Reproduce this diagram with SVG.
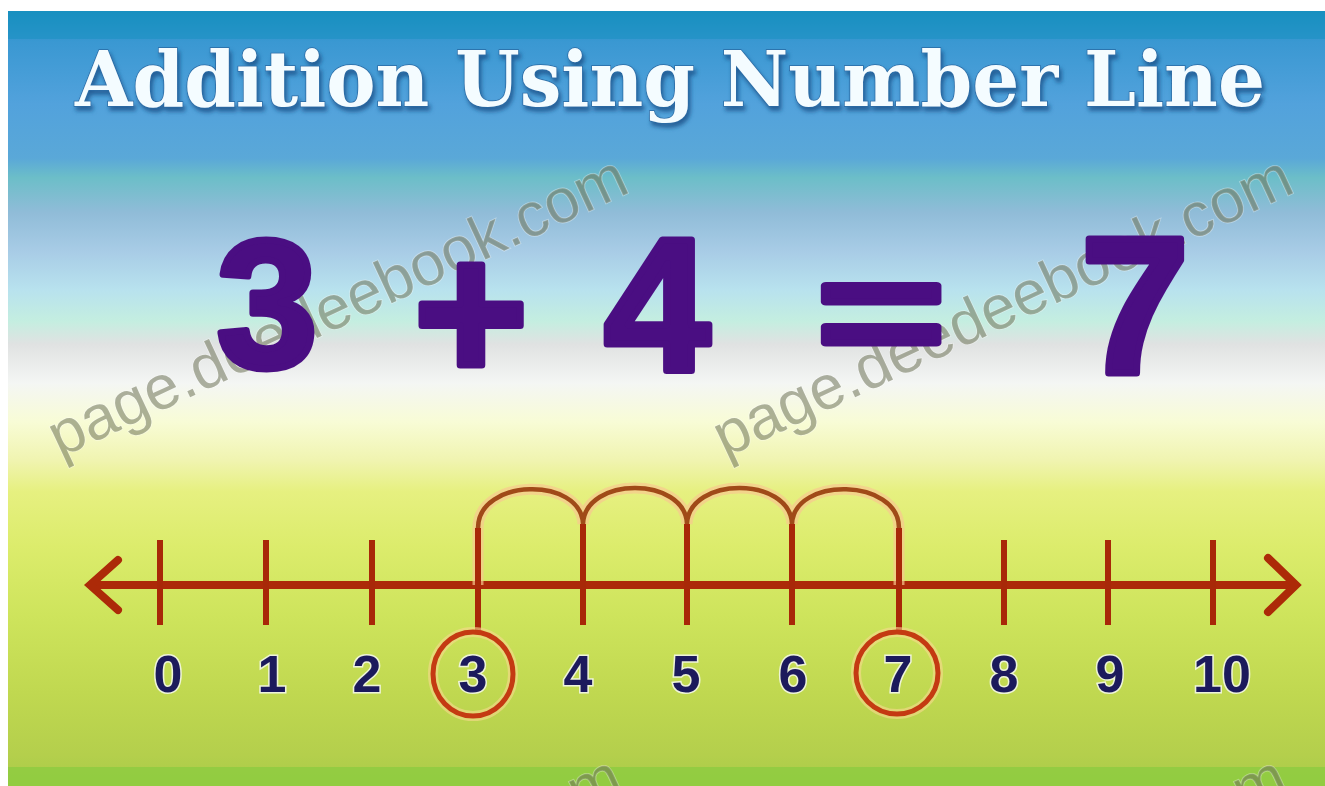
<svg xmlns="http://www.w3.org/2000/svg" width="1325" height="786" viewBox="0 0 1325 786">
<defs>
<linearGradient id="bg" x1="0" y1="11" x2="0" y2="786" gradientUnits="userSpaceOnUse">
<stop offset="0" stop-color="#1a90c0"/>
<stop offset="0.04" stop-color="#3a98d2"/>
<stop offset="0.12" stop-color="#52a2dc"/>
<stop offset="0.19" stop-color="#5aa8d8"/>
<stop offset="0.215" stop-color="#6cbec8"/>
<stop offset="0.26" stop-color="#90bcd8"/>
<stop offset="0.31" stop-color="#a8cce6"/>
<stop offset="0.36" stop-color="#b8e2ee"/>
<stop offset="0.40" stop-color="#c4eee0"/>
<stop offset="0.43" stop-color="#e0e2e2"/>
<stop offset="0.48" stop-color="#f4f6f4"/>
<stop offset="0.53" stop-color="#f8fcd6"/>
<stop offset="0.58" stop-color="#f0f4b0"/>
<stop offset="0.62" stop-color="#e6f080"/>
<stop offset="0.69" stop-color="#dcec6c"/>
<stop offset="0.78" stop-color="#cee45c"/>
<stop offset="0.88" stop-color="#c0d850"/>
<stop offset="0.96" stop-color="#b4cf4c"/>
<stop offset="1" stop-color="#a8cc48"/>
</linearGradient>
<clipPath id="clip"><rect x="8" y="11" width="1317" height="775"/></clipPath>
<filter id="shadow" x="-5%" y="-20%" width="110%" height="150%">
<feDropShadow dx="2" dy="4" stdDeviation="2" flood-color="#1b4f86" flood-opacity="0.8"/>
</filter>
</defs>
<style>
.title{font-family:"DejaVu Serif",serif;font-weight:bold;font-size:76px;fill:#f4fcff;stroke:#2a6aa4;stroke-width:1.5;paint-order:stroke}
.eq{font-family:"Liberation Sans",Arial,sans-serif;font-weight:bold;fill:#4a0e82;stroke:#4a0e82;stroke-width:7;stroke-linejoin:round;text-anchor:middle}
.wm{font-family:"Liberation Sans",Arial,sans-serif;font-size:62px;fill:#6e7258;fill-opacity:0.55;stroke:#ffffff;stroke-opacity:0.35;stroke-width:1.5;paint-order:stroke}
.axis{stroke:#ac2a08;stroke-width:8;fill:none;stroke-linecap:round}
.tick{stroke:#a82808;stroke-width:6;stroke-linecap:butt;fill:none}
.halo{stroke:#f8c890;stroke-width:11;fill:none;opacity:0.7}
.arc{stroke:#a04a18;stroke-width:4.5;fill:none}
.lbl{font-family:"Liberation Sans",Arial,sans-serif;font-weight:bold;font-size:52px;fill:#1c1a5c;stroke:#eef4d8;stroke-width:3;paint-order:stroke;text-anchor:middle}
.ring{fill:none;stroke:#c43a12;stroke-width:5}
.ringhalo{fill:none;stroke:#f8d890;stroke-width:10;opacity:0.6}
</style>
<rect x="0" y="0" width="1325" height="786" fill="#ffffff"/>
<g id="background" clip-path="url(#clip)">
<rect x="8" y="11" width="1317" height="775" fill="url(#bg)"/>
<rect x="8" y="11" width="1317" height="28" fill="#1590bf" opacity="0.5"/>
<rect x="8" y="767" width="1317" height="19" fill="#8ccc40" opacity="0.8"/>
</g>
<g id="title" filter="url(#shadow)">
<text class="title" x="75" y="106" textLength="1190" lengthAdjust="spacingAndGlyphs">Addition Using Number Line</text>
</g>
<g id="watermarks" clip-path="url(#clip)">
<text class="wm" transform="translate(60,458) rotate(-25)">page.deedeebook.com</text>
<text class="wm" transform="translate(725,458) rotate(-25)">page.deedeebook.com</text>
<text class="wm" transform="translate(54,1058) rotate(-25)">page.deedeebook.com</text>
<text class="wm" transform="translate(719,1058) rotate(-25)">page.deedeebook.com</text>
</g>
<g id="equation">
<text class="eq" x="267" y="367" font-size="181">3</text>
<text class="eq" x="471" y="380" font-size="196">+</text>
<text class="eq" x="657" y="371" font-size="190">4</text>
<text class="eq" transform="translate(881,365) scale(1.45,1)" x="0" y="0" font-size="152">=</text>
<text class="eq" x="1135" y="373" font-size="195">7</text>
</g>
<g id="number-line">
<path class="axis" d="M92,585 H1294"/>
<path class="axis" d="M118,560 L90,585 L118,610"/>
<path class="axis" d="M1268,558 L1296,585 L1268,612"/>
<g id="ticks">
<line class="tick" x1="160" y1="540" x2="160" y2="625"/>
<line class="tick" x1="266" y1="540" x2="266" y2="625"/>
<line class="tick" x1="372" y1="540" x2="372" y2="625"/>
<line class="tick" x1="478" y1="540" x2="478" y2="634"/>
<line class="tick" x1="583" y1="540" x2="583" y2="625"/>
<line class="tick" x1="687" y1="540" x2="687" y2="625"/>
<line class="tick" x1="792" y1="540" x2="792" y2="625"/>
<line class="tick" x1="899" y1="540" x2="899" y2="632"/>
<line class="tick" x1="1004" y1="540" x2="1004" y2="625"/>
<line class="tick" x1="1108" y1="540" x2="1108" y2="625"/>
<line class="tick" x1="1213" y1="540" x2="1213" y2="625"/>
</g>
</g>
<g id="connectors">
<path class="halo" d="M478,585 V528 C478,478 581,476 583,524 C585,476 685,476 687,524 C689,476 790,476 792,524 C794,476 899,478 899,528 V585"/>
<path class="arc" d="M478,585 V528 C478,478 581,476 583,524 C585,476 685,476 687,524 C689,476 790,476 792,524 C794,476 899,478 899,528 V585"/>
<path class="tick" d="M478,585 V528 M583,585 V524 M687,585 V524 M792,585 V524 M899,585 V528" stroke-width="5"/>
</g>
<g id="labels">
<g id="n0"><text class="lbl" x="168" y="692">0</text></g>
<g id="n1"><text class="lbl" x="272" y="692">1</text></g>
<g id="n2"><text class="lbl" x="367" y="692">2</text></g>
<g id="n3"><ellipse class="ringhalo" cx="473" cy="674" rx="40" ry="42"/><ellipse class="ring" cx="473" cy="674" rx="40" ry="42"/><text class="lbl" x="473" y="692">3</text></g>
<g id="n4"><text class="lbl" x="578" y="692">4</text></g>
<g id="n5"><text class="lbl" x="686" y="692">5</text></g>
<g id="n6"><text class="lbl" x="793" y="692">6</text></g>
<g id="n7"><ellipse class="ringhalo" cx="897" cy="673" rx="41" ry="41"/><ellipse class="ring" cx="897" cy="673" rx="41" ry="41"/><text class="lbl" x="898" y="692">7</text></g>
<g id="n8"><text class="lbl" x="1004" y="692">8</text></g>
<g id="n9"><text class="lbl" x="1110" y="692">9</text></g>
<g id="n10"><text class="lbl" x="1222" y="692">10</text></g>
</g>
</svg>
